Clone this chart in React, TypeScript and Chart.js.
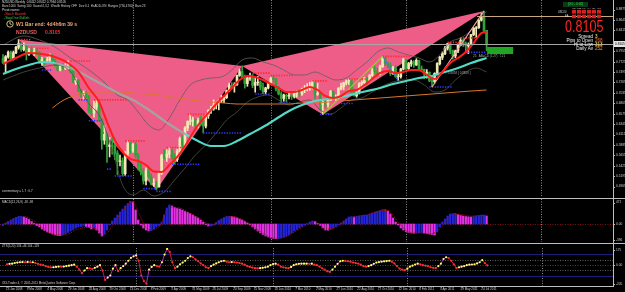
import React, { useEffect, useRef } from "react";
import { Chart, registerables } from "chart.js";

Chart.register(...registerables);

// ---------------- DATA (weekly NZDUSD, week 0 = 13 Jan 2008) ----------------
const firstOpen = 0.779;
const closes = [
  0.7700, 0.7830, 0.7930, 0.7780, 0.7920, 0.8040, 0.8120, 0.7990, 0.8050, 0.7890,
  0.7990, 0.7950, 0.7960, 0.7920, 0.7700, 0.7770, 0.7750, 0.7760, 0.7850, 0.7760,
  0.7670, 0.7540, 0.7640, 0.7570, 0.7590, 0.7600, 0.7550, 0.7270, 0.7310, 0.7080,
  0.6990, 0.7040, 0.6960, 0.6640, 0.6590, 0.6720, 0.6800, 0.6440, 0.5990, 0.6120,
  0.5850, 0.5880, 0.5860, 0.5700, 0.5520, 0.5530, 0.5250, 0.5700, 0.5920, 0.5750,
  0.5890, 0.5660, 0.5430, 0.5290, 0.5090, 0.5310, 0.5180, 0.5020, 0.5030, 0.4960,
  0.5260, 0.5650, 0.5610, 0.5680, 0.5750, 0.5620, 0.5560, 0.5740, 0.6020, 0.5880,
  0.6260, 0.6400, 0.6410, 0.6440, 0.6310, 0.6420, 0.6390, 0.6300, 0.6530, 0.6650,
  0.6680, 0.6760, 0.6820, 0.6860, 0.6880, 0.6930, 0.7080, 0.7200, 0.7190, 0.7220,
  0.7420, 0.7500, 0.7390, 0.7240, 0.7360, 0.7370, 0.7200, 0.7260, 0.7270, 0.7160,
  0.7060, 0.7140, 0.7260, 0.7350, 0.7330, 0.7120, 0.7010, 0.6910, 0.6980, 0.6960,
  0.6980, 0.6960, 0.7010, 0.7030, 0.7010, 0.7120, 0.7120, 0.7140, 0.7150, 0.7250,
  0.7000, 0.7020, 0.6780, 0.6820, 0.6780, 0.6880, 0.7060, 0.6920, 0.6930, 0.7130,
  0.7170, 0.7250, 0.7290, 0.7300, 0.7060, 0.6970, 0.7040, 0.7240, 0.7260, 0.7350,
  0.7300, 0.7420, 0.7520, 0.7500, 0.7470, 0.7610, 0.7810, 0.7680, 0.7640, 0.7460,
  0.7590, 0.7390, 0.7390, 0.7560, 0.7770, 0.7570, 0.7680, 0.7720, 0.7650, 0.7750,
  0.7560, 0.7550, 0.7470, 0.7480, 0.7300, 0.7280, 0.7460, 0.7680, 0.7820, 0.7900,
  0.8020, 0.8120, 0.7960, 0.7850, 0.7960, 0.8090, 0.8190, 0.8120, 0.8070, 0.8100,
  0.8320, 0.8460, 0.8470, 0.8640, 0.8720, 0.8412, 0.8105,
];
const highs = [
  0.7880, 0.7860, 0.7960, 0.7960, 0.7960, 0.8060, 0.8215, 0.8160, 0.8140, 0.8090,
  0.8020, 0.8050, 0.8020, 0.8000, 0.7950, 0.7820, 0.7800, 0.7820, 0.7900, 0.7880,
  0.7780, 0.7700, 0.7660, 0.7680, 0.7680, 0.7740, 0.7650, 0.7560, 0.7360, 0.7330,
  0.7100, 0.7080, 0.7060, 0.6980, 0.6720, 0.6860, 0.6880, 0.6820, 0.6460, 0.6320,
  0.6140, 0.6050, 0.6040, 0.5900, 0.5760, 0.5660, 0.5600, 0.5740, 0.5975, 0.5940,
  0.5920, 0.5940, 0.5700, 0.5520, 0.5360, 0.5380, 0.5360, 0.5250, 0.5140, 0.5080,
  0.5300, 0.5680, 0.5780, 0.5780, 0.5830, 0.5800, 0.5700, 0.5790, 0.6060, 0.6090,
  0.6290, 0.6420, 0.6560, 0.6500, 0.6460, 0.6480, 0.6520, 0.6420, 0.6560, 0.6660,
  0.6740, 0.6880, 0.6830, 0.6880, 0.6980, 0.6950, 0.7100, 0.7250, 0.7260, 0.7260,
  0.7430, 0.7560, 0.7630, 0.7430, 0.7400, 0.7470, 0.7440, 0.7360, 0.7400, 0.7300,
  0.7250, 0.7160, 0.7270, 0.7380, 0.7420, 0.7360, 0.7180, 0.7060, 0.7010, 0.7010,
  0.7030, 0.7060, 0.7040, 0.7080, 0.7090, 0.7140, 0.7200, 0.7240, 0.7270, 0.7300,
  0.7260, 0.7250, 0.7040, 0.6860, 0.6900, 0.6920, 0.7090, 0.7080, 0.6990, 0.7150,
  0.7250, 0.7270, 0.7320, 0.7340, 0.7300, 0.7120, 0.7060, 0.7260, 0.7300, 0.7380,
  0.7380, 0.7440, 0.7570, 0.7620, 0.7580, 0.7650, 0.7840, 0.7820, 0.7720, 0.7700,
  0.7620, 0.7640, 0.7460, 0.7580, 0.7800, 0.7780, 0.7710, 0.7760, 0.7750, 0.7790,
  0.7760, 0.7630, 0.7560, 0.7550, 0.7500, 0.7380, 0.7480, 0.7700, 0.7840, 0.7940,
  0.8060, 0.8130, 0.8150, 0.7980, 0.7980, 0.8120, 0.8250, 0.8230, 0.8160, 0.8140,
  0.8330, 0.8480, 0.8500, 0.8650, 0.8800, 0.8843, 0.8412,
];
const lows = [
  0.7680, 0.7500, 0.7800, 0.7740, 0.7760, 0.7900, 0.8000, 0.7950, 0.7960, 0.7760,
  0.7860, 0.7900, 0.7860, 0.7880, 0.7690, 0.7640, 0.7660, 0.7700, 0.7720, 0.7720,
  0.7620, 0.7520, 0.7520, 0.7540, 0.7550, 0.7560, 0.7480, 0.7260, 0.7220, 0.7060,
  0.6940, 0.6880, 0.6920, 0.6600, 0.6530, 0.6500, 0.6660, 0.6400, 0.5790, 0.5900,
  0.5500, 0.5620, 0.5680, 0.5560, 0.5230, 0.5420, 0.5200, 0.5210, 0.5620, 0.5700,
  0.5720, 0.5600, 0.5330, 0.5220, 0.5020, 0.5000, 0.5150, 0.5000, 0.4970, 0.4890,
  0.4950, 0.5230, 0.5580, 0.5520, 0.5600, 0.5560, 0.5460, 0.5520, 0.5720, 0.5820,
  0.5860, 0.6200, 0.6330, 0.6300, 0.6240, 0.6260, 0.6320, 0.6150, 0.6260, 0.6470,
  0.6580, 0.6650, 0.6680, 0.6660, 0.6820, 0.6820, 0.6910, 0.7060, 0.7120, 0.7050,
  0.7200, 0.7400, 0.7360, 0.7140, 0.7180, 0.7310, 0.7150, 0.7050, 0.7200, 0.7100,
  0.7020, 0.7010, 0.7120, 0.7220, 0.7270, 0.7080, 0.6990, 0.6810, 0.6850, 0.6830,
  0.6900, 0.6890, 0.6920, 0.6940, 0.6940, 0.6980, 0.7040, 0.7080, 0.7090, 0.7120,
  0.6900, 0.6980, 0.6660, 0.6560, 0.6700, 0.6720, 0.6860, 0.6900, 0.6840, 0.6900,
  0.7100, 0.7100, 0.7210, 0.7220, 0.7040, 0.6960, 0.6940, 0.7010, 0.7160, 0.7220,
  0.7200, 0.7290, 0.7400, 0.7450, 0.7400, 0.7430, 0.7600, 0.7640, 0.7580, 0.7420,
  0.7440, 0.7380, 0.7300, 0.7360, 0.7540, 0.7530, 0.7540, 0.7620, 0.7600, 0.7640,
  0.7520, 0.7510, 0.7350, 0.7360, 0.7280, 0.7165, 0.7250, 0.7440, 0.7650, 0.7770,
  0.7880, 0.7980, 0.7900, 0.7780, 0.7810, 0.7920, 0.8080, 0.8060, 0.7930, 0.7900,
  0.8100, 0.8300, 0.8260, 0.8460, 0.8620, 0.8380, 0.7964,
];

const dateLabels = [
  "13 Jan 2008", "9 Mar 2008", "4 May 2008", "29 Jun 2008", "24 Aug 2008", "19 Oct 2008",
  "14 Dec 2008", "8 Feb 2009", "5 Apr 2009", "31 May 2009", "26 Jul 2009", "20 Sep 2009",
  "15 Nov 2009", "10 Jan 2010", "7 Mar 2010", "2 May 2010", "27 Jun 2010", "22 Aug 2010",
  "17 Oct 2010", "12 Dec 2010", "6 Feb 2011", "3 Apr 2011", "29 May 2011", "24 Jul 2011",
];
const dateLabelEvery = 8;
const yearStartWeeks = [50, 103, 155, 207];

const priceTicks = [
  0.8875, 0.8645, 0.8415, 0.8185, 0.7955, 0.7725, 0.7495, 0.7265, 0.7035, 0.6805,
  0.6575, 0.6345, 0.6115, 0.5885, 0.5655, 0.5425, 0.5195, 0.4965, 0.4735,
];
const bidPrice = 0.8105;
const weekHighPrice = 0.8733;
const weekHighFromWeek = 182.3;

// harmonic pattern X, A, B, C, D
const patternWeeks = [6, 59, 92, 123, 185];
const patternPrices = [0.8215, 0.489, 0.763, 0.656, 0.8843];

const fastMa: [number, number][] = [
  [0, .7673], [5, .7805], [10, .7915], [15, .7893], [20, .7827], [25, .7695], [29, .7496], [33, .7143],
  [37, .6833], [40, .6392], [43, .5994], [46, .5729], [49, .5575], [52, .5530], [55, .5442], [58, .5300],
  [61, .5290], [64, .5442], [67, .5619], [70, .5862], [73, .6149], [76, .6392], [79, .6590], [82, .6789],
  [85, .6966], [88, .7143], [91, .7319], [94, .7408], [97, .7386], [100, .7319], [103, .7231], [106, .7143],
  [109, .7054], [112, .7054], [115, .7099], [118, .7165], [121, .7099], [124, .6966], [127, .6922], [130, .6966],
  [133, .7076], [136, .7099], [139, .7209], [142, .7341], [145, .7474], [148, .7518], [151, .7474], [154, .7496],
  [157, .7540], [160, .7540], [163, .7430], [166, .7341], [169, .7496], [172, .7695], [175, .7805], [178, .7937],
  [181, .8136], [184, .8357], [186, .8379],
];
const slowMa: [number, number][] = [
  [0, .7452], [5, .7562], [10, .7651], [15, .7717], [20, .7695], [25, .7606], [30, .7474], [35, .7319],
  [40, .7165], [45, .7010], [50, .6878], [55, .6701], [60, .6502], [65, .6303], [70, .6127], [75, .5972],
  [80, .5862], [85, .5862], [90, .5972], [95, .6127], [100, .6281], [105, .6458], [110, .6635], [115, .6767],
  [120, .6855], [125, .6900], [130, .6943], [135, .7010], [140, .7076], [145, .7143], [150, .7231], [155, .7297],
  [160, .7363], [165, .7408], [170, .7496], [175, .7584], [180, .7695], [186, .7805],
];
const slowMaGrayWeeks = [17, 68];
const longMa: [number, number][] = [
  [19, .6700], [22, .6830], [25, .6922], [30, .7010], [35, .7054], [40, .7054], [45, .7054], [50, .7032],
  [55, .7010], [60, .6988], [65, .6943], [70, .6900], [75, .6855], [80, .6833], [85, .6811], [90, .6789],
  [100, .6789], [110, .6789], [115, .6811], [120, .6811], [125, .6833], [130, .6855], [135, .6878], [140, .6900],
  [145, .6922], [150, .6943], [155, .6966], [160, .6988], [165, .7010], [170, .7032], [175, .7054], [180, .7076],
  [186, .7099],
];
const bandUpper: [number, number][] = [
  [0, .8092], [8, .8291], [14, .8203], [20, .8048], [26, .7805], [32, .7584], [38, .7319], [44, .6988],
  [48, .6878], [52, .6613], [56, .6325], [60, .6215], [64, .6480], [68, .6878], [72, .7209], [76, .7319],
  [80, .7363], [84, .7386], [88, .7540], [92, .7761], [96, .7805], [100, .7717], [104, .7650], [108, .7540],
  [112, .7430], [116, .7430], [120, .7496], [124, .7408], [128, .7319], [132, .7363], [136, .7540], [140, .7717],
  [144, .7938], [148, .8026], [152, .7938], [156, .7871], [160, .7805], [164, .7717], [168, .7871], [172, .8158],
  [176, .8247], [180, .8423], [184, .8755], [186, .8821],
];
const bandLower: [number, number][] = [
  [0, .7319], [8, .7496], [14, .7584], [20, .7650], [26, .7496], [32, .6878], [38, .6436], [42, .5773],
  [46, .5000], [50, .4780], [54, .4890], [58, .4758], [62, .4846], [66, .5111], [70, .5376], [74, .5663],
  [78, .5884], [82, .6149], [86, .6436], [90, .6613], [94, .6833], [98, .6944], [102, .6988], [106, .6878],
  [110, .6767], [114, .6833], [118, .6878], [122, .6657], [126, .6568], [130, .6701], [134, .6878], [138, .6922],
  [142, .7054], [146, .7187], [150, .7275], [154, .7319], [158, .7319], [162, .7209], [166, .7054], [170, .7099],
  [174, .7319], [178, .7496], [182, .7584], [186, .7496],
];
// [fromWeek, toWeek, price]
const resistance: [number, number, number][] = [
  [6, 11, .8215], [13, 18, .8020], [26, 34, .7740], [35, 48, .6880], [47, 55, .5975], [63, 69, .5830],
  [71, 78, .6560], [96, 103, .7470], [103, 112, .7420], [119, 125, .7300], [133, 140, .7340],
  [146, 157, .7840], [171, 177, .8150], [176, 182, .8250],
];
const support: [number, number, number][] = [
  [15, 19, .7540], [29, 33, .6880], [33, 38, .6420], [40, 42, .5350], [43, 50, .5200], [54, 59, .4920],
  [59, 65, .4860], [65, 76, .5460], [77, 92, .6150], [97, 103, .7010], [106, 111, .6810], [122, 127, .6560],
  [130, 135, .6800], [164, 173, .7165], [178, 186, .7930],
];
const zigGreen: [number, number][] = [[123, .6560], [146, .7840]];
const zigBlue: [number, number][] = [[146, .7840], [152, .7300]];
const zigSalmon: [number, number][] = [[165, .7165], [185, .8843]];
const przBox = [186.2, 196.2, 0.8048, 0.7893]; // weekFrom, weekTo, top, bottom

const macdHist = [
  -33, 22, 55, 88, 121, 143, 165, 169, 154, 132,
  99, 55, 11, -33, -66, -110, -143, -176, -198, -220,
  -242, -253, -257, -242, -220, -187, -154, -121, -88, -66,
  -55, -44, -55, -77, -110, -88, -132, -198, -264, -220,
  -132, -22, 66, 132, 198, 264, 330, 396, 451, 499,
  484, 308, 88, -22, -88, -132, -154, -143, -110, -66,
  -33, 44, 198, 352, 418, 396, 363, 341, 330, 308,
  275, 253, 231, 198, 165, 132, 88, 44, -11, -44,
  -44, -22, 33, 77, 110, 143, 165, 169, 165, 154,
  132, 110, 88, 55, 22, -22, -66, -110, -154, -198,
  -231, -264, -286, -308, -319, -323, -319, -308, -286, -264,
  -231, -198, -154, -121, -88, -55, -22, 11, 44, 66,
  55, 11, -33, -88, -132, -136, -121, -88, -55, -22,
  22, 66, 110, 154, 161, 154, 165, 176, 187, 198,
  198, 220, 242, 264, 275, 297, 319, 323, 286, 220,
  132, 44, -22, -88, -132, -165, -187, -198, -205, -198,
  -191, -187, -198, -209, -220, -231, -242, -176, -66, 44,
  110, 176, 220, 231, 235, 209, 187, 176, 165, 158,
  154, 165, 176, 187, 198, 198, 176,
];
const macdSignal: [number, number][] = [
  [0, -22], [4, 110], [8, 165], [12, 66], [16, -132], [20, -231], [24, -242], [28, -132], [32, -77],
  [36, -110], [38, -242], [40, -198], [44, 132], [48, 418], [50, 484], [52, 264], [56, -132], [60, -66],
  [64, 374], [68, 352], [72, 242], [76, 110], [80, -33], [84, 99], [88, 165], [92, 99], [96, -44],
  [100, -209], [104, -308], [108, -297], [112, -176], [116, -44], [120, 55], [124, -110], [128, -77],
  [132, 88], [136, 165], [140, 198], [144, 275], [148, 297], [152, 44], [156, -176], [160, -198],
  [164, -220], [168, -110], [172, 176], [176, 209], [180, 176], [184, 187], [186, 187],
];
const macdAxisLabels = [471, 0, -396];

const oscValues = [
  9, 14, 15, 22, 27, 30, 32, 30, 32, 30,
  30, 22, 14, 5, 0, -9, -18, -22, -21, -18,
  -14, -15, -14, -9, -5, 0, 5, -15, -45, -81,
  -54, -30, -32, -39, -27, -15, 0, -54, -150, -126,
  -105, -36, 0, -60, -30, -9, 15, 45, 75, 90,
  99, 45, -105, -162, -189, -45, -18, 0, -9, -15,
  30, 108, 165, 135, 30, -30, -15, 9, 27, 45,
  72, 90, 81, 60, 40, 18, 0, -22, -30, -9,
  5, 18, 30, 40, 45, 36, 30, 32, 30, 27,
  22, 15, 5, -9, -18, -25, -30, -32, -30, -27,
  -22, -15, 0, 11, 15, 5, -15, -22, -27, -30,
  -18, 0, 9, 14, 15, 15, 15, 14, 15, 5,
  0, -14, -32, -45, -63, -69, -45, -15, 14, 39,
  45, 43, 40, 36, 27, 21, 15, 5, -9, -15,
  -9, 0, 14, 27, 32, 36, 39, 42, 45, 36,
  18, -9, -36, -45, -51, -36, -15, -5, 7, 15,
  9, 0, -5, -9, -21, -27, -30, -9, 15, 63,
  81, 72, 45, 9, -30, -22, -15, -9, 0, 5,
  7, 9, 18, 30, 51, 20, -2,
];
const oscOuterLevels = [112, -112];
const oscInnerLevels = [54, -54];
const oscAxisLabels = [175, 0, -205];

// ---------------- LAYOUT / STYLE ----------------
const FONT = '"Liberation Sans", Arial, sans-serif';
const PLOT_RIGHT_PAD = 12;
const X_MIN = -3 / 2.6;
const X_MAX = (613 - 3) / 2.6;
const PINK = "#ee5d88";
const BULL = "#efeab4";
const BEAR = "#34a23c";
const GRIDC = "#8a8a8a";

function txt(ctx: CanvasRenderingContext2D, s: string, x: number, y: number, color: string, size: number,
  o: { bold?: boolean; align?: CanvasTextAlign; sx?: number } = {}) {
  ctx.save();
  ctx.font = `${o.bold ? "bold " : ""}${size}px ${FONT}`;
  ctx.fillStyle = color;
  ctx.textAlign = o.align || "left";
  ctx.textBaseline = "middle";
  ctx.translate(x, y);
  ctx.scale(o.sx || 1, 1);
  ctx.fillText(s, 0, 0);
  ctx.restore();
}
function hline(ctx: CanvasRenderingContext2D, x1: number, x2: number, y: number, color: string, dash: number[] = []) {
  ctx.save();
  ctx.strokeStyle = color; ctx.lineWidth = 1; ctx.setLineDash(dash);
  ctx.beginPath(); ctx.moveTo(x1, Math.round(y) + 0.5); ctx.lineTo(x2, Math.round(y) + 0.5); ctx.stroke();
  ctx.restore();
}
function yearGrid(chart: any) {
  const { ctx, chartArea: a, scales: { x } } = chart;
  ctx.save();
  ctx.strokeStyle = GRIDC; ctx.lineWidth = 1; ctx.setLineDash([1, 1.5]);
  for (const w of yearStartWeeks) {
    const px = Math.round(x.getPixelForValue(w)) + 0.5;
    ctx.beginPath(); ctx.moveTo(px, a.top); ctx.lineTo(px, a.bottom); ctx.stroke();
  }
  ctx.restore();
}
function axisLabel(ctx: CanvasRenderingContext2D, a: any, y: number, s: string) {
  hline(ctx, a.right, a.right + 2, y, "#b8b8b8");
  txt(ctx, s, a.right + 3, y, "#d0d0d0", 3.2);
}

const pairs = (p: [number, number][]) => p.map(([x, y]) => ({ x, y }));
const segs = (s: [number, number, number][]) =>
  s.flatMap(([a, b, p]) => [{ x: a, y: p }, { x: b, y: p }, { x: b, y: null as any }]);

function baseOptions(yMin: number, yMax: number, padBottom: number): any {
  return {
    responsive: false,
    animation: false,
    events: [],
    layout: { padding: { left: 0, right: PLOT_RIGHT_PAD, top: 0, bottom: padBottom } },
    plugins: { legend: { display: false }, tooltip: { enabled: false } },
    scales: {
      x: { type: "linear", display: false, min: X_MIN, max: X_MAX, offset: false },
      y: { type: "linear", display: false, min: yMin, max: yMax },
    },
  };
}

// ---------------- MAIN PRICE CHART ----------------
function mainConfig(): any {
  const opens = closes.map((c, i) => (i === 0 ? firstOpen : closes[i - 1]));
  const up = closes.map((c, i) => c >= opens[i]);
  const wick = closes.map((c, i) => ({ x: i, y: [lows[i], highs[i]] }));
  const body = closes.map((c, i) => ({ x: i, y: [Math.min(c, opens[i]), Math.max(c, opens[i]) + 0.0004] }));
  const colors = up.map((u) => (u ? BULL : BEAR));

  const decor = {
    id: "mainDecor",
    beforeDatasetsDraw(chart: any) {
      const { ctx, chartArea: a, scales: { x, y } } = chart;
      yearGrid(chart);
      ctx.save();
      ctx.beginPath(); ctx.rect(a.left, a.top, a.right - a.left, a.bottom - a.top); ctx.clip();
      ctx.fillStyle = PINK;
      for (const tri of [[0, 1, 2], [2, 3, 4]]) {
        ctx.beginPath();
        tri.forEach((k, j) => {
          const px = x.getPixelForValue(patternWeeks[k]);
          const py = y.getPixelForValue(patternPrices[k]);
          if (j === 0) ctx.moveTo(px, py); else ctx.lineTo(px, py);
        });
        ctx.closePath(); ctx.fill();
      }
      ctx.restore();
    },
    afterDatasetsDraw(chart: any) {
      const { ctx, chartArea: a, scales: { x, y } } = chart;
      const by = y.getPixelForValue(bidPrice);
      hline(ctx, 0, a.right, by, "#a6a6a6");
      hline(ctx, x.getPixelForValue(weekHighFromWeek), a.right, y.getPixelForValue(weekHighPrice), "#c9a77d");
      ctx.fillStyle = "#20a524";
      const bx1 = x.getPixelForValue(przBox[0]), bx2 = x.getPixelForValue(przBox[1]);
      const by1 = y.getPixelForValue(przBox[2]), by2 = y.getPixelForValue(przBox[3]);
      ctx.fillRect(bx1, by1, bx2 - bx1, by2 - by1);
      txt(ctx, "25   AB=CD (1.27)   121", 473, 56, "#8fbf8f", 3);
      txt(ctx, "0.8858 [ 0.8858 ]", 448, 73, "#a8a8a8", 3);
      txt(ctx, "commentary = 1.7 : 0.7", 2, 191, "#cfcfcf", 3);
      for (const v of priceTicks) {
        const py = y.getPixelForValue(v);
        if (Math.abs(py - by) < 6 || py < 2 || py > a.bottom) continue;
        axisLabel(ctx, a, Math.min(py, a.bottom - 2), v.toFixed(4));
      }
      ctx.fillStyle = "#e4e4e4";
      ctx.fillRect(a.right + 1, Math.round(by) - 3, 12, 6);
      txt(ctx, bidPrice.toFixed(4), a.right + 2, by, "#000", 3.2);
      txt(ctx, "NZDUSD,Weekly  0.8412 0.8412 0.7964 0.8105", 2, 2.5, "#dedede", 3);
      txt(ctx, "Bars:1000  Swing:100  Sound:2,3,2  Wealth History OFF  Dev:0.1  HsADD-ON  Ranges [756,4760]  Bars:23", 2, 6.5, "#cfcfcf", 3);
      txt(ctx, "Pivot name:", 2, 10.5, "#dedede", 3.4);
      txt(ctx, "-Stoch Bearish", 4, 14.5, "#ff3b3b", 3.4);
      txt(ctx, "-StopOne Bullish", 4, 18.5, "#33cc44", 3.4);
      ctx.save();
      ctx.strokeStyle = "#e3d48f"; ctx.lineWidth = 0.9;
      ctx.beginPath(); ctx.arc(10, 24, 3.2, 0, Math.PI * 2); ctx.stroke();
      ctx.beginPath(); ctx.moveTo(10, 24); ctx.lineTo(10, 21.8); ctx.moveTo(10, 24); ctx.lineTo(11.6, 24.6); ctx.stroke();
      ctx.restore();
      txt(ctx, "W1 Bar end: 4d4h6m 39 s", 16, 24, "#f2a97a", 5.6, { bold: true, sx: 0.9 });
      txt(ctx, "NZDUSD", 16, 32, "#e86060", 5.6, { bold: true, sx: 0.9 });
      txt(ctx, "0.8105", 45, 32, "#ff2a2a", 5.6, { bold: true, sx: 0.9 });
      ctx.fillStyle = "#0c3a18";
      ctx.fillRect(563, 2, 25, 5);
      txt(ctx, "[0:0 - 0:00]", 575.5, 4.6, "#3fd35a", 3.2, { align: "center" });
      const tfs = ["M5", "M15", "H1", "H4", "D1", "W1"];
      tfs.forEach((t, k) => {
        const cx = 572 + k * 5;
        txt(ctx, t, cx + 2, 8.6, "#d8d8d8", 2.2, { align: "center" });
        ctx.fillStyle = "#d92020";
        ctx.fillRect(cx, 10, 4, 3.6);
        ctx.fillRect(cx, 14.6, 4, 3.6);
      });
      txt(ctx, "USD20", 558, 11.8, "#d8d8d8", 2.6);
      txt(ctx, "EA", 565, 16.4, "#d8d8d8", 2.6);
      txt(ctx, "0.8105", 565, 27.2, "#ff2626", 16.5, { sx: 0.76 });
      const info: [string, string, string][] = [
        ["Spread", "3", "#ffff33"],
        ["Pips to Open", "268", "#ff6a3d"],
        ["Hi to Low", "313", "#ffe04a"],
        ["Daily Av", "252", "#ff9d2e"],
      ];
      info.forEach(([l, v, c], k) => {
        txt(ctx, l, 593, 36.3 + k * 4.1, "#ececec", 4.6, { align: "right" });
        txt(ctx, v, 595, 36.3 + k * 4.1, c, 4.6);
      });
    },
  };

  const line = (data: any[], color: string, width: number, order: number, extra: any = {}) => ({
    type: "line", data, borderColor: color, borderWidth: width, pointRadius: 0, order, ...extra,
  });
  const smooth = { cubicInterpolationMode: "monotone" };

  return {
    type: "bar",
    data: {
      datasets: [
        { type: "bar", data: wick, backgroundColor: colors, barThickness: 1, grouped: false, order: 20 },
        { type: "bar", data: body, backgroundColor: colors, barThickness: 2, grouped: false, order: 19 },
        line(pairs(bandUpper), "#5e5e5e", 0.8, 12, smooth),
        line(pairs(bandLower), "#4c5444", 0.8, 12, smooth),
        line(pairs(longMa), "#d9772c", 1, 11, smooth),
        line(pairs(slowMa), "#55d8c6", 2.2, 10, {
          ...smooth,
          segment: {
            borderColor: (c: any) =>
              c.p0.parsed.x >= slowMaGrayWeeks[0] && c.p0.parsed.x < slowMaGrayWeeks[1] ? "#a3a3a3" : "#55d8c6",
          },
        }),
        line(segs(resistance), "#ff2a2a", 1.6, 6, { borderDash: [1.3, 1.3] }),
        line(segs(support), "#3636ff", 1.6, 6, { borderDash: [1.3, 1.3] }),
        line(pairs(zigGreen), "#9acd32", 1.2, 5),
        line(pairs(zigBlue), "#6a5cff", 1, 5),
        line(pairs(zigSalmon), "#f4a3a3", 1.2, 5),
        line(pairs(fastMa), "#ff1c1c", 2, 4, smooth),
      ],
    },
    options: baseOptions(0.47354, 0.90859, 1),
    plugins: [decor],
  };
}

// ---------------- MACD PANEL ----------------
function macdConfig(): any {
  const colors = macdHist.map((v, i) => (i > 0 && v < macdHist[i - 1] ? "#e230e2" : "#2424d8"));
  const decor = {
    id: "macdDecor",
    beforeDatasetsDraw(chart: any) {
      const { ctx, chartArea: a, scales: { y } } = chart;
      yearGrid(chart);
      hline(ctx, 0, a.right, y.getPixelForValue(0), "#7a1414", [1, 1.5]);
    },
    afterDatasetsDraw(chart: any) {
      const { ctx, chartArea: a, scales: { y } } = chart;
      txt(ctx, "MACD(12,26,9) -18 -98", 2, 3, "#cfcfcf", 3);
      macdAxisLabels.forEach((v) => {
        const py = Math.max(a.top + 2, Math.min(a.bottom - 2, y.getPixelForValue(v)));
        axisLabel(ctx, a, py, v === 0 ? "0.00" : String(v));
      });
    },
  };
  return {
    type: "bar",
    data: {
      datasets: [
        {
          type: "bar", data: macdHist.map((v, i) => ({ x: i, y: v })), backgroundColor: colors,
          barThickness: 1.6, grouped: false, order: 5,
        },
        {
          type: "line", data: pairs(macdSignal), borderColor: "#9a1010", borderWidth: 1,
          borderDash: [1, 1], pointRadius: 0, cubicInterpolationMode: "monotone", order: 1,
        },
      ],
    },
    options: baseOptions(-396, 550, 0),
    plugins: [decor],
  };
}

// ---------------- OSCILLATOR PANEL ----------------
function oscConfig(): any {
  const dotColors = oscValues.map((v, i) => (i > 0 && v >= oscValues[i - 1] ? "#ffff66" : "#ff2d2d"));
  const decor = {
    id: "oscDecor",
    beforeDatasetsDraw(chart: any) {
      const { ctx, chartArea: a, scales: { y } } = chart;
      yearGrid(chart);
      oscOuterLevels.forEach((v) => hline(ctx, 0, a.right, y.getPixelForValue(v), "#1e1e78"));
      oscInnerLevels.forEach((v) => hline(ctx, 0, a.right, y.getPixelForValue(v), "#5e5e5e", [1, 1.5]));
      hline(ctx, 0, a.right, y.getPixelForValue(0), "#3535b0", [1, 1.5]);
    },
    afterDatasetsDraw(chart: any) {
      const { ctx, chartArea: a, scales: { x, y } } = chart;
      txt(ctx, "ZTS(5,20) 134 -46 104 -129", 2, 2.5, "#cfcfcf", 3);
      txt(ctx, "ODLTrader 4, \u00a9 2001-2011 MetaQuotes Software Corp.", 2, a.bottom - 3, "#cfcfcf", 3);
      oscAxisLabels.forEach((v) => {
        const py = Math.max(a.top + 2, Math.min(a.bottom - 2, y.getPixelForValue(v)));
        axisLabel(ctx, a, py, v === 0 ? "0.00" : String(v));
      });
      hline(ctx, 0, a.right + 1, a.bottom, "#bdbdbd");
      dateLabels.forEach((s, k) => {
        const px = x.getPixelForValue(k * dateLabelEvery);
        ctx.save(); ctx.strokeStyle = "#bdbdbd"; ctx.lineWidth = 1;
        ctx.beginPath(); ctx.moveTo(Math.round(px) + 0.5, a.bottom); ctx.lineTo(Math.round(px) + 0.5, a.bottom + 1.5); ctx.stroke();
        ctx.restore();
        txt(ctx, s, px - 1, a.bottom + 3.6, "#cfcfcf", 3);
      });
    },
  };
  return {
    type: "line",
    data: {
      datasets: [
        {
          data: oscValues.map((v, i) => ({ x: i, y: v })),
          borderWidth: 1,
          borderColor: "#c81e48",
          segment: { borderColor: (c: any) => (c.p1.parsed.y >= c.p0.parsed.y ? "#a232b0" : "#d01c3c") },
          pointRadius: 1.1,
          pointBorderWidth: 0,
          pointBackgroundColor: dotColors,
          tension: 0,
        },
      ],
    },
    options: baseOptions(-212, 175, 6),
    plugins: [decor],
  };
}

export default function App() {
  const mainRef = useRef<HTMLCanvasElement>(null);
  const macdRef = useRef<HTMLCanvasElement>(null);
  const oscRef = useRef<HTMLCanvasElement>(null);

  useEffect(() => {
    document.body.style.margin = "0";
    document.body.style.background = "#000";
    const charts = [
      new Chart(mainRef.current as HTMLCanvasElement, mainConfig()),
      new Chart(macdRef.current as HTMLCanvasElement, macdConfig()),
      new Chart(oscRef.current as HTMLCanvasElement, oscConfig()),
    ];
    return () => charts.forEach((c) => c.destroy());
  }, []);

  const abs = (top: number): React.CSSProperties => ({ position: "absolute", left: 0, top });
  const sep = (top: number, width = 625): React.CSSProperties => ({
    position: "absolute", left: 0, top, width, height: 1, background: "#bdbdbd",
  });

  return (
    <div style={{ position: "relative", width: 625, height: 292, background: "#000", overflow: "hidden" }}>
      <canvas ref={mainRef} width={625} height={198} style={abs(0)} />
      <canvas ref={macdRef} width={625} height={43} style={abs(199)} />
      <canvas ref={oscRef} width={625} height={48} style={abs(244)} />
      <div style={sep(198)} />
      <div style={sep(243)} />
      <div style={{ position: "absolute", left: 613, top: 0, width: 1, height: 287, background: "#bdbdbd" }} />
    </div>
  );
}
